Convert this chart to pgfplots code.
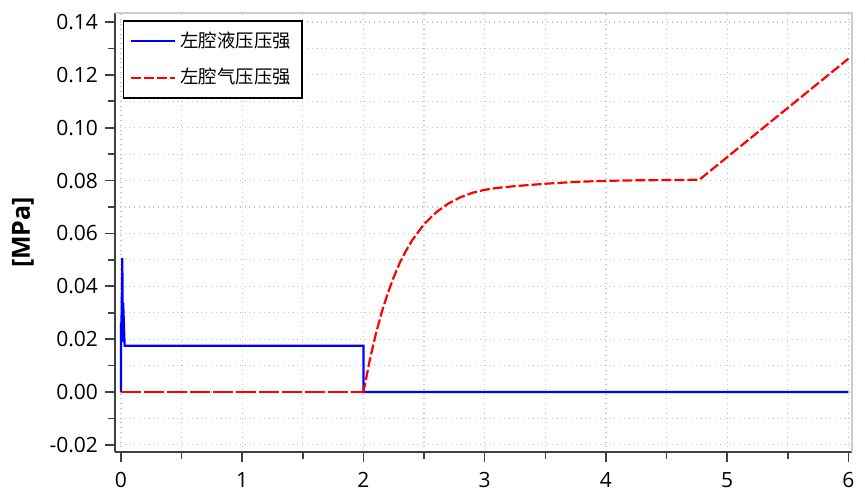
\documentclass[border=0pt]{standalone}
\usepackage{fontspec}
\setmainfont{Open Sans}
\newfontfamily\cjk{Noto Sans CJK SC}
\usepackage{pgfplots}
\pgfplotsset{compat=1.18}
\definecolor{axdark}{RGB}{64,64,64}
\definecolor{axlight}{RGB}{205,205,205}
\definecolor{gridc}{RGB}{195,195,195}
\begin{document}
\begin{tikzpicture}
\begin{axis}[
  scale only axis, width=368.5pt, height=219.5pt,
  xmin=-0.0495, xmax=6.03, ymin=-0.0227, ymax=0.1434,
  axis x line*=bottom, axis y line*=left,
  axis line style={draw=axdark, line width=1pt},
  xtick={0,1,2,3,4,5,6},
  ytick={-0.02,0,0.02,0.04,0.06,0.08,0.10,0.12,0.14},
  minor x tick num=1, minor y tick num=1,
  tick align=outside, major tick length=5pt, minor tick length=3.5pt,
  tick style={axdark, line width=0.8pt},
  grid=both,
  major grid style={gridc, dotted, line width=0.6pt},
  minor grid style={gridc, dotted, line width=0.6pt},
  yticklabel style={/pgf/number format/.cd, fixed, fixed zerofill, precision=2},
  xticklabel style={yshift=-1.5pt},
  /pgf/number format/assume math mode=true,
  ticklabel style={font=\fontsize{10.5}{12}\selectfont, text=black},
  ylabel={[MPa]},
  ylabel style={font=\bfseries\fontsize{12.5}{14}\selectfont, at={(axis description cs:0,0.5)}, anchor=center, yshift=46pt},
  clip=false,
  legend cell align=left,
  legend style={at={(rel axis cs:0,1)}, anchor=north west, xshift=3.85pt, yshift=-3.65pt,
    draw=black, line width=0.6pt, fill=white, font=\cjk\fontsize{9.2}{11}\selectfont,
    inner xsep=3.5pt, inner ysep=3.5pt, row sep=5pt},
  legend image code/.code={\draw[#1] (0pt,0pt) -- (20pt,0pt); \path (0pt,0pt) -- (22pt,0pt);},
]
\coordinate (O) at (rel axis cs:0,0);
\draw[axlight, line width=0.75pt] (rel axis cs:0,1) -- (rel axis cs:1,1) -- (rel axis cs:1,0);
\addplot[blue, line width=1.1pt] coordinates {
  (0,0) (0,0.0258) (0.004,0.0258) (0.011,0.0507) (0.014,0.019) (0.018,0.0338)
  (0.03,0.0175) (2.0,0.0175) (2.0,0) (6.0,0)
};
\addlegendentry{左腔液压压强}
\addplot[red, line width=1.1pt, dash pattern=on 5pt off 1.5pt] coordinates {
  (1.995,0) (2.0,0) (2.05,0.0116) (2.1,0.0216) (2.15,0.0301) (2.2,0.0373) (2.25,0.0435)
  (2.3,0.0489) (2.35,0.0534) (2.4,0.0573) (2.5,0.0635) (2.6,0.0680) (2.7,0.0713)
  (2.8,0.0737) (2.9,0.0754) (3.0,0.0765) (3.1,0.0772) (3.25,0.0779) (3.5,0.0788)
  (3.75,0.0795) (4.0,0.0799) (4.25,0.0801) (4.5,0.0802) (4.77,0.0803) (6.0,0.1261)
};
\addlegendentry{左腔气压压强}
\addplot[red, line width=1.1pt, dash pattern=on 10pt off 1.5pt, forget plot] coordinates {
  (0,0) (1.995,0)
};
\end{axis}
\pgfresetboundingbox
\path ([shift={(-57.5pt,-23.5pt)}]O) rectangle ([shift={(375pt,226pt)}]O);
\end{tikzpicture}
\end{document}
